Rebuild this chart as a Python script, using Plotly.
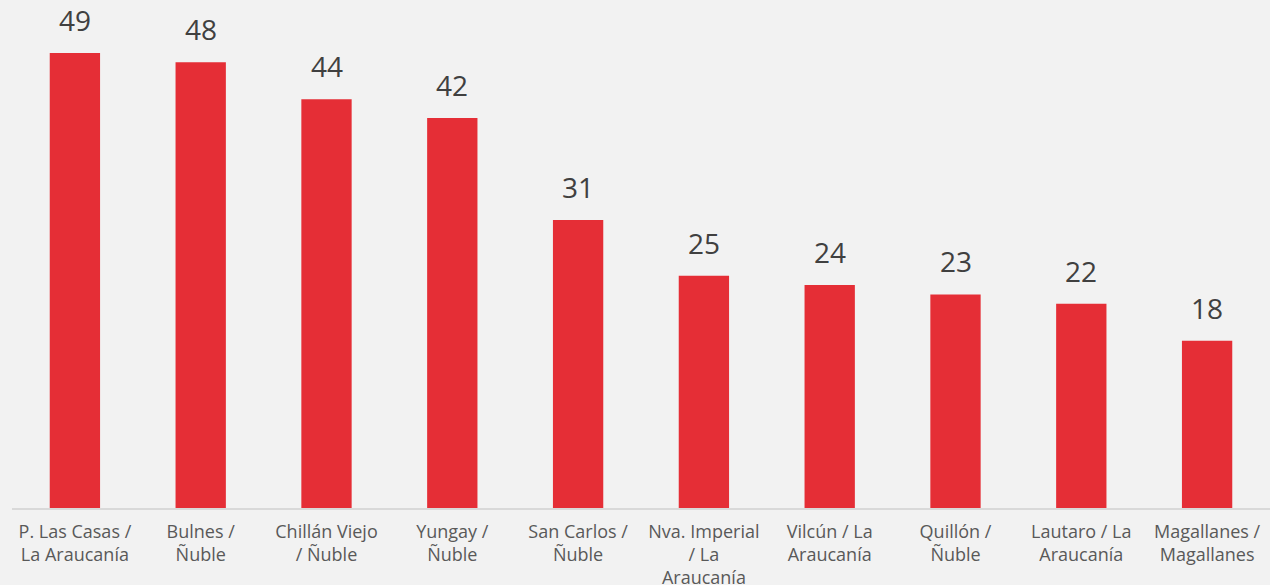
import plotly.graph_objects as go

categories = [
    "P. Las Casas /<br>La Araucanía",
    "Bulnes /<br>Ñuble",
    "Chillán Viejo<br>/ Ñuble",
    "Yungay /<br>Ñuble",
    "San Carlos /<br>Ñuble",
    "Nva. Imperial<br>/ La<br>Araucanía",
    "Vilcún / La<br>Araucanía",
    "Quillón /<br>Ñuble",
    "Lautaro / La<br>Araucanía",
    "Magallanes /<br>Magallanes",
]
values = [49, 48, 44, 42, 31, 25, 24, 23, 22, 18]

FONT = "Open Sans"
BAR_COLOR = "#E52E36"

fig = go.Figure()
fig.add_trace(go.Bar(
    x=categories,
    y=values,
    marker=dict(color=BAR_COLOR, line=dict(width=0)),
    hoverinfo="x+y",
))

for c, v in zip(categories, values):
    fig.add_annotation(
        x=c, y=v, text=str(v), showarrow=False,
        yanchor="bottom", yshift=12,
        font=dict(family=FONT, size=28, color="#404040"),
    )

fig.update_layout(
    width=1270, height=585,
    margin=dict(l=12, r=0, t=0, b=77, autoexpand=False),
    paper_bgcolor="#F2F2F2",
    plot_bgcolor="#F2F2F2",
    bargap=0.6,
    showlegend=False,
    font=dict(family=FONT, color="#595959"),
)
fig.update_xaxes(
    showline=True, linecolor="#D9D9D9", linewidth=2,
    tickfont=dict(family=FONT, size=18, color="#595959"),
    ticks="", showgrid=False, tickangle=0,
    ticklabelstandoff=6, automargin=False,
)
fig.update_yaxes(
    range=[0, 54.7], visible=False, showgrid=False, zeroline=False,
    automargin=False,
)

fig.write_html(
    "out.html",
    config={"displayModeBar": False},
    post_script="document.body.style.margin='0';document.body.style.background='#F2F2F2';",
)
